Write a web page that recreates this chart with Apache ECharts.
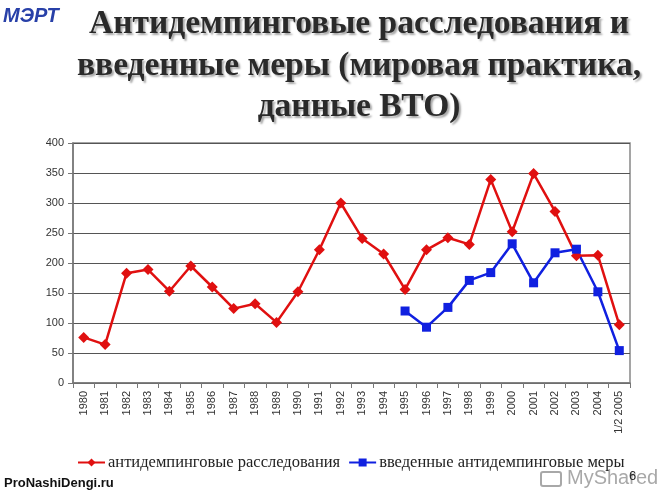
<!DOCTYPE html>
<html><head><meta charset="utf-8">
<script src="https://cdn.jsdelivr.net/npm/echarts@6/dist/echarts.min.js"></script>
<style>html,body{margin:0;padding:0;background:#fff}#c{width:670px;height:500px}</style>
</head><body><div id="c"></div>
<script>
const categories = ['1980','1981','1982','1983','1984','1985','1986','1987','1988','1989','1990','1991','1992','1993','1994','1995','1996','1997','1998','1999','2000','2001','2002','2003','2004','1/2 2005'];
const investigations = [76,64,183,189,153,195,160,124,132,101,152,222,300,241,215,156,222,242,231,339,252,349,286,212,213,97];
const measures = [null,null,null,null,null,null,null,null,null,null,null,null,null,null,null,120,93,126,171,184,232,167,217,223,152,54];
const yTicks = [0,50,100,150,200,250,300,350,400];
const seriesNames = ['антидемпинговые расследования','введенные антидемпинговые меры'];

const chart = echarts.init(document.getElementById('c'));
chart.setOption({
  backgroundColor:'#fff',
  animation:false,
  title:{
    text:'Антидемпинговые расследования и\nвведенные меры (мировая практика,\nданные ВТО)',
    left:354, top:-1, textAlign:'center',
    textStyle:{fontFamily:'Liberation Serif',fontWeight:'bold',fontSize:33.5,lineHeight:41.5,color:'#2a2a2a',
      textShadowColor:'rgba(0,0,0,0.35)',textShadowOffsetX:2,textShadowOffsetY:2,textShadowBlur:2}
  },
  grid:{left:73,right:40,top:143,bottom:117,show:true,borderColor:'#888',borderWidth:1.5},
  legend:{
    top:449,left:72,itemWidth:27,itemHeight:10,itemGap:8,
    textStyle:{fontFamily:'Liberation Serif',fontSize:16.5,color:'#222',padding:[0,0,0,-2]},
    data:seriesNames
  },
  xAxis:{
    type:'category',data:categories,boundaryGap:true,
    axisLine:{lineStyle:{color:'#777',width:1.5}},
    axisTick:{show:true,length:5,interval:0,lineStyle:{color:'#777'}},
    axisLabel:{rotate:90,interval:0,fontFamily:'Liberation Sans',fontSize:11,color:'#333',margin:8}
  },
  yAxis:{
    type:'value',min:0,max:400,interval:50,
    axisLine:{show:true,lineStyle:{color:'#777',width:1.5}},
    axisTick:{show:true,length:5,lineStyle:{color:'#777'}},
    axisLabel:{fontFamily:'Liberation Sans',fontSize:11,color:'#333',margin:9,
      formatter:v=>yTicks.includes(v)?String(v):''},
    splitLine:{lineStyle:{color:'#555',width:1.2}}
  },
  series:[
    {name:seriesNames[0],type:'line',data:investigations,symbol:'diamond',symbolSize:11,
      lineStyle:{color:'#e01010',width:2.5},itemStyle:{color:'#e01010'}},
    {name:seriesNames[1],type:'line',data:measures,symbol:'rect',symbolSize:9,connectNulls:false,
      lineStyle:{color:'#1020e0',width:2.5},itemStyle:{color:'#1020e0'}}
  ],
  graphic:[
    {type:'text',left:3,top:6,style:{text:'МЭРТ',font:'italic bold 20px Liberation Sans',fill:'#2840a8'}},
    {type:'text',left:4,top:477,style:{text:'ProNashiDengi.ru',font:'bold 13px Liberation Sans',fill:'#111'}},
    {type:'rect',shape:{x:541,y:472,width:20,height:14,r:2},style:{fill:'none',stroke:'rgba(110,110,110,0.6)',lineWidth:2}},
    {type:'text',left:567,top:468,style:{text:'MyShared',font:'20px Liberation Sans',fill:'rgba(110,110,110,0.6)'}},
    {type:'text',left:629,top:470,style:{text:'6',font:'13px Liberation Sans',fill:'#222'}}
  ]
});
</script></body></html>
